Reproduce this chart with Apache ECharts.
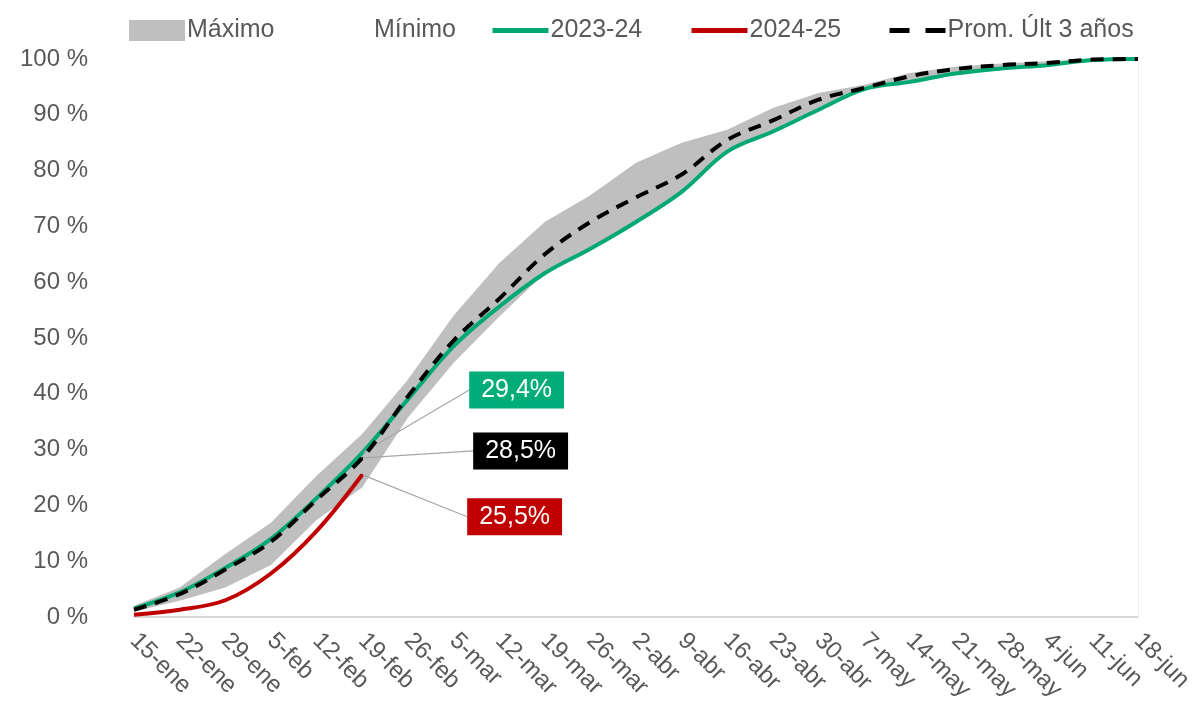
<!DOCTYPE html>
<html>
<head>
<meta charset="utf-8">
<script src="https://cdn.jsdelivr.net/npm/echarts@6/dist/echarts.min.js"></script>
<style>
html,body{margin:0;padding:0;background:#fff;}
#chart{width:1196px;height:725px;}
</style>
</head>
<body>
<div id="chart"></div>
<script>
var categories = ['15-ene','22-ene','29-ene','5-feb','12-feb','19-feb','26-feb','5-mar','12-mar','19-mar','26-mar','2-abr','9-abr','16-abr','23-abr','30-abr','7-may','14-may','21-may','28-may','4-jun','11-jun','18-jun'];
var maximo = [2.0, 5.3, 11.3, 16.9, 25.3, 32.8, 42.5, 54.0, 63.4, 70.8, 75.6, 81.4, 85.0, 87.3, 91.2, 93.9, 95.4, 97.5, 98.6, 99.2, 99.6, 100, 100];
var minimo = [1.0, 2.9, 5.3, 9.3, 17.4, 23.2, 35.7, 45.5, 53.8, 61.6, 66.0, 70.8, 76.2, 83.4, 87.0, 90.9, 94.5, 95.9, 97.4, 98.3, 98.9, 99.8, 100];
var s2023 = [1.5, 4.4, 8.8, 14.0, 21.3, 29.4, 39.0, 48.5, 55.6, 61.6, 66.0, 70.8, 76.2, 83.4, 87.0, 90.9, 94.6, 95.9, 97.4, 98.3, 98.9, 99.8, 100];
var s2024 = [0.4, 1.3, 3.0, 7.8, 15.4, 25.5];
var promedio = [1.3, 4.1, 8.5, 13.5, 21.0, 28.5, 39.5, 49.5, 57.0, 65.0, 70.8, 75.2, 79.3, 85.5, 89.0, 92.7, 94.8, 96.9, 98.2, 98.9, 99.3, 99.9, 100];
var yTicks = [0,10,20,30,40,50,60,70,80,90,100];
var legendNames = ['Máximo', 'Mínimo', '2023-24', '2024-25', 'Prom. Últ 3 años'];
var labelIndex = 5;

var bandDiff = maximo.map(function(v,i){ return +(v - minimo[i]).toFixed(2); });

function withLabel(arr, idx, bg) {
  return arr.map(function(v,i){
    if (i !== idx) return v;
    return {
      value: v,
      symbol: 'circle',
      symbolSize: 2,
      label: {
        show: true,
        position: 'right',
        distance: 0,
        formatter: function(p){ return String(p.value.toFixed(1)).replace('.', ',') + '%'; },
        backgroundColor: bg,
        color: '#ffffff',
        fontFamily: 'Liberation Sans, Arial, sans-serif',
        fontSize: 25,
        padding: [5, 12, 4, 12],
        lineHeight: 28
      },
      labelLine: { show: true, lineStyle: { color: '#a6a6a6', width: 1.2 } }
    };
  });
}

var chart = echarts.init(document.getElementById('chart'));
var txt = '#595959';
var font = 'Liberation Sans, Arial, sans-serif';

var legendLefts = [124, 311, 485, 684, 882];
var legends = legendNames.map(function(n, i){
  var item = { name: n };
  if (i === 0) { item.icon = 'rect'; item.itemStyle = { color: '#bfbfbf' }; }
  else if (i === 1) { item.icon = 'rect'; item.itemStyle = { color: 'rgba(255,255,255,0)' }; }
  else {
    item.itemStyle = { opacity: 0 };
    item.lineStyle = { width: 5 };
    if (i === 4) item.lineStyle.type = [20, 16];
  }
  return {
    left: legendLefts[i],
    top: 13,
    itemWidth: 56,
    itemHeight: 21,
    itemGap: 0,
    textStyle: { color: txt, fontSize: 25, fontFamily: font, padding: [0,0,0,-3] },
    data: [item]
  };
});

chart.setOption({
  animation: false,
  backgroundColor: '#ffffff',
  grid: { left: 134, right: 58, top: 59, bottom: 108, containLabel: false },
  legend: legends,
  xAxis: {
    type: 'category',
    data: categories,
    boundaryGap: false,
    axisTick: { show: false },
    axisLine: { lineStyle: { color: '#d9d9d9', width: 2 } },
    axisLabel: { color: txt, fontSize: 24, fontFamily: font, rotate: -45, margin: 20, interval: 0 }
  },
  yAxis: {
    type: 'value',
    min: 0,
    max: 100,
    interval: 10,
    splitLine: { show: false },
    axisLine: { show: false },
    axisTick: { show: false },
    axisLabel: {
      color: txt, fontSize: 24, fontFamily: font, margin: 46,
      formatter: function(v){ return yTicks.indexOf(v) >= 0 ? v + ' %' : ''; }
    }
  },
  series: [
    {
      name: 'Mínimo', type: 'line', stack: 'band', data: minimo,
      symbol: 'none', lineStyle: { width: 0, opacity: 0 },
      itemStyle: { color: 'rgba(255,255,255,0)' }, z: 1, silent: true
    },
    {
      name: 'Máximo', type: 'line', stack: 'band', data: bandDiff,
      symbol: 'none', lineStyle: { width: 0, opacity: 0 },
      itemStyle: { color: '#bfbfbf' },
      areaStyle: { color: '#bfbfbf', opacity: 1 }, z: 1, silent: true,
      markLine: {
        silent: true, symbol: ['none','none'],
        label: { show: false },
        lineStyle: { color: '#ececec', width: 1, type: 'solid' },
        data: [{ xAxis: categories[categories.length - 1] }]
      }
    },
    {
      name: '2023-24', type: 'line', data: withLabel(s2023, labelIndex, '#00ac78'),
      symbol: 'none', smooth: 0.35,
      lineStyle: { color: '#00a874', width: 4 }, itemStyle: { color: '#00a874' }, z: 3,
      labelLayout: { dx: 106, dy: -63 }
    },
    {
      name: '2024-25', type: 'line', data: withLabel(s2024, labelIndex, '#c00000'),
      symbol: 'none', smooth: 0.35,
      lineStyle: { color: '#c00000', width: 4 }, itemStyle: { color: '#c00000' }, z: 4,
      labelLayout: { dx: 104, dy: 42 }
    },
    {
      name: 'Prom. Últ 3 años', type: 'line', data: withLabel(promedio, labelIndex, '#000000'),
      symbol: 'none', smooth: 0.35,
      lineStyle: { color: '#000000', width: 4, type: [13, 9] }, itemStyle: { color: '#000000' }, z: 5,
      labelLayout: { dx: 110, dy: -7 }
    }
  ]
});
</script>
</body>
</html>
